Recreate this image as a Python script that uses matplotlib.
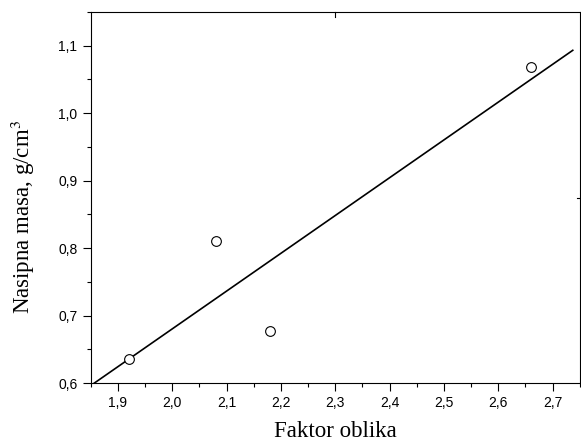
import matplotlib
matplotlib.use('Agg')
import matplotlib.pyplot as plt
import numpy as np
from matplotlib.ticker import MultipleLocator, FuncFormatter

# measured points: shape factor vs bulk density
faktor_oblika = [1.92, 2.08, 2.18, 2.66]
nasipna_masa = [0.636, 0.81, 0.678, 1.068]
fit_x_range = [1.85, 2.737]

plt.rcParams['mathtext.fontset'] = 'stix'

fig = plt.figure(figsize=(5.81, 4.44), dpi=100)
ax = fig.add_axes([0.156, 0.137, 0.842, 0.836])

# linear fit through the points
k, b = np.polyfit(faktor_oblika, nasipna_masa, 1)
fx = np.array(fit_x_range)
ax.plot(fx, k * fx + b, color='black', linewidth=1.2)
ax.plot(faktor_oblika, nasipna_masa, linestyle='none', marker='o',
        markersize=7, markerfacecolor='white', markeredgecolor='black',
        markeredgewidth=0.8)

ax.set_xlim(1.85, 2.75)
ax.set_ylim(0.6, 1.15)

ax.xaxis.set_major_locator(MultipleLocator(0.1))
ax.xaxis.set_minor_locator(MultipleLocator(0.05))
ax.yaxis.set_major_locator(MultipleLocator(0.1))
ax.yaxis.set_minor_locator(MultipleLocator(0.05))
comma = FuncFormatter(lambda v, pos: f'{v:.1f}'.replace('.', ','))
ax.xaxis.set_major_formatter(comma)
ax.yaxis.set_major_formatter(comma)

ax.tick_params(which='major', direction='out', length=5.5, width=0.8,
               labelsize=10, pad=4)
ax.tick_params(which='minor', direction='out', length=3, width=0.8)
for lab in ax.get_xticklabels() + ax.get_yticklabels():
    lab.set_family('Liberation Sans')

for s in ax.spines.values():
    s.set_linewidth(0.8)

# stray inward ticks on top and right spines, as in the original
ax.plot([2.3, 2.3], [1.15, 1.143], color='black', linewidth=0.8,
        clip_on=False)
ax.plot([2.745, 2.75], [0.874, 0.874], color='black', linewidth=0.8,
        clip_on=False)

ax.set_xlabel('Faktor oblika', family='Liberation Serif', fontsize=16.5)
ax.set_ylabel('Nasipna masa, g/cm$^3$', family='Liberation Serif',
              fontsize=16.5)
ax.xaxis.set_label_coords(0.5, -0.102)
ax.yaxis.set_label_coords(-0.11, 0.448)

fig.savefig('out.png', dpi=100)
